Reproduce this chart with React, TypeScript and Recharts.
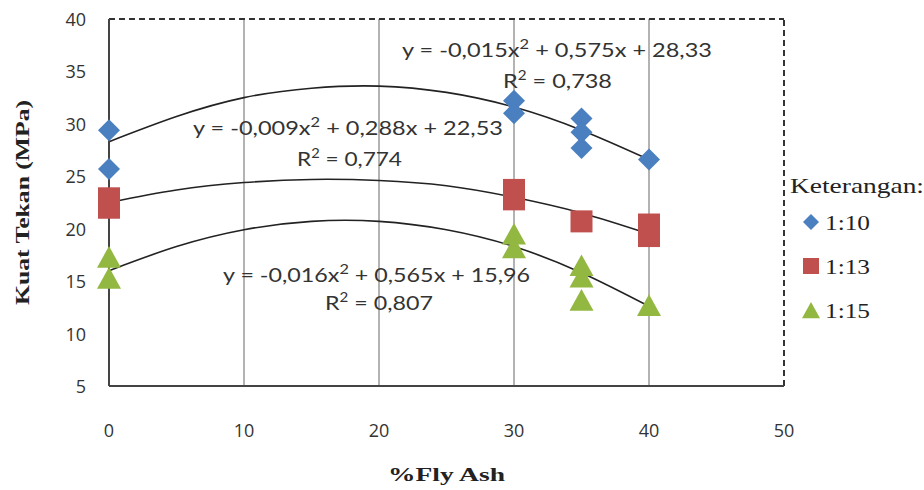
import {
  ComposedChart,
  Scatter,
  Line,
  XAxis,
  YAxis,
  ReferenceLine,
} from "recharts";

// axes
const xTicks = [0, 10, 20, 30, 40, 50];
const yTicks = [5, 10, 15, 20, 25, 30, 35, 40];
const innerGrid = [10, 20, 30, 40];

// measured points (% fly ash, compressive strength MPa)
const s110X = [0, 0, 30, 30, 35, 35, 35, 40];
const s110Y = [29.4, 25.7, 32.2, 31.0, 30.5, 29.2, 27.7, 26.6];
const s113X = [0, 0, 30, 30, 35, 40, 40];
const s113Y = [22.9, 22.0, 23.7, 22.8, 20.7, 20.4, 19.3];
const s115X = [0, 0, 30, 30, 35, 35, 35, 40];
const s115Y = [17.2, 15.2, 19.4, 18.1, 16.4, 15.3, 13.1, 12.6];

// trend curves
const trendX = [0, 5, 10, 15, 20, 25, 30, 35, 40];
const trend110 = [28.3, 30.7, 32.5, 33.4, 33.6, 33.0, 31.6, 29.4, 26.6];
const trend113 = [22.5, 23.7, 24.4, 24.7, 24.6, 24.1, 23.0, 21.5, 19.5];
const trend115 = [16.0, 18.3, 19.9, 20.7, 20.7, 19.9, 18.3, 15.8, 12.6];

const BLUE = "#4a7fc0";
const RED = "#c0504d";
const GREEN = "#93b842";

const pts = (xs: number[], ys: number[]) => xs.map((x, i) => ({ x, y: ys[i] }));

const Diamond = ({ cx, cy, s = 11 }: any) => (
  <path d={`M${cx},${cy - s}L${cx + s},${cy}L${cx},${cy + s}L${cx - s},${cy}Z`} fill={BLUE} />
);
const Square = ({ cx, cy, s = 11 }: any) => <rect x={cx - s} y={cy - s} width={2 * s} height={2 * s} fill={RED} />;
const Triangle = ({ cx, cy, s = 12 }: any) => (
  <path d={`M${cx},${cy - s}L${cx + s},${cy + s * 0.8}L${cx - s},${cy + s * 0.8}Z`} fill={GREEN} />
);

const tickFont = { fontFamily: "Open Sans", fontSize: 18, fill: "#333" };

const YTick = ({ y, payload }: any) => (
  <text x={86} y={y} textAnchor="end" dominantBaseline="central" {...tickFont}>
    {payload.value}
  </text>
);

const XTick = ({ x, payload }: any) => (
  <text x={x} y={437} textAnchor="middle" {...tickFont}>
    {payload.value}
  </text>
);

const YTitle = ({ viewBox }: any) => {
  const cy = viewBox.y + viewBox.height / 2;
  return (
    <text
      x={22}
      y={cy}
      transform={`rotate(-90, 22, ${cy})`}
      textAnchor="middle"
      dominantBaseline="central"
      fontFamily="Liberation Serif"
      fontWeight="bold"
      fontSize={19}
      textLength={205}
      lengthAdjust="spacingAndGlyphs"
      fill="#222"
    >
      Kuat Tekan (MPa)
    </text>
  );
};

const XTitle = ({ viewBox }: any) => (
  <text
    x={viewBox.x + viewBox.width / 2}
    y={481}
    textAnchor="middle"
    fontFamily="Liberation Serif"
    fontWeight="bold"
    fontSize={19}
    textLength={117}
    lengthAdjust="spacingAndGlyphs"
    fill="#222"
  >
    %Fly Ash
  </text>
);

const eqStyle = { fontFamily: "Lato", fontSize: 20, fill: "#333" };

const Eq = ({ x, y, a, b, c, len }: any) => (
  <text x={x} y={y} {...eqStyle} textLength={len} lengthAdjust="spacingAndGlyphs">
    y = {a}x<tspan dy={-8} fontSize={14}>2</tspan>
    <tspan dy={8}> + {b}x + {c}</tspan>
  </text>
);

const R2 = ({ x, y, v, len }: any) => (
  <text x={x} y={y} {...eqStyle} textLength={len} lengthAdjust="spacingAndGlyphs">
    R<tspan dy={-8} fontSize={13}>2</tspan>
    <tspan dy={8}> = {v}</tspan>
  </text>
);

const legendText = { fontFamily: "Liberation Serif", fontSize: 21, fill: "#222" };

export default function App() {
  return (
    <div style={{ position: "absolute", left: 0, top: 0, width: 924, height: 490, background: "#fff" }}>
      <ComposedChart width={924} height={490} margin={{ top: 19, right: 140, bottom: 0, left: 0 }}>
        <XAxis
          type="number"
          dataKey="x"
          domain={[0, 50]}
          ticks={xTicks}
          allowDuplicatedCategory={false}
          height={104}
          tickLine={false}
          tick={<XTick />}
          axisLine={{ stroke: "#444", strokeWidth: 2 }}
          label={<XTitle />}
        />
        <YAxis
          type="number"
          dataKey="y"
          domain={[5, 40]}
          ticks={yTicks}
          width={109}
          tickLine={false}
          tick={<YTick />}
          axisLine={{ stroke: "#444", strokeWidth: 2 }}
          label={<YTitle />}
        />
        {innerGrid.map((v) => (
          <ReferenceLine key={v} x={v} stroke="#9a9a9a" strokeWidth={1.5} />
        ))}
        <ReferenceLine y={40} stroke="#333" strokeWidth={2} strokeDasharray="6 4" />
        <ReferenceLine x={50} stroke="#333" strokeWidth={2} strokeDasharray="6 4" />
        <Scatter data={pts(s110X, s110Y)} dataKey="y" shape={<Diamond />} isAnimationActive={false} />
        <Scatter data={pts(s113X, s113Y)} dataKey="y" shape={<Square />} isAnimationActive={false} />
        <Scatter data={pts(s115X, s115Y)} dataKey="y" shape={<Triangle />} isAnimationActive={false} />
        {[trend110, trend113, trend115].map((t, i) => (
          <Line
            key={i}
            data={pts(trendX, t)}
            dataKey="y"
            type="natural"
            stroke="#222"
            strokeWidth={1.6}
            dot={false}
            activeDot={false}
            isAnimationActive={false}
          />
        ))}
      </ComposedChart>

      <svg width={924} height={490} style={{ position: "absolute", left: 0, top: 0, pointerEvents: "none" }}>
        <Eq x={402} y={57} a="-0,015" b="0,575" c="28,33" len={310} />
        <R2 x={503} y={88} v="0,738" len={109} />
        <Eq x={193} y={135} a="-0,009" b="0,288" c="22,53" len={310} />
        <R2 x={297} y={166} v="0,774" len={105} />
        <Eq x={223} y={282} a="-0,016" b="0,565" c="15,96" len={307} />
        <R2 x={325} y={310} v="0,807" len={108} />

        <text x={790} y={193} {...legendText} textLength={134} lengthAdjust="spacingAndGlyphs">
          Keterangan:
        </text>
        <Diamond cx={811} cy={222} s={8} />
        <text x={825} y={230} {...legendText} textLength={45} lengthAdjust="spacingAndGlyphs">
          1:10
        </text>
        <Square cx={811} cy={266} s={8} />
        <text x={825} y={274} {...legendText} textLength={45} lengthAdjust="spacingAndGlyphs">
          1:13
        </text>
        <Triangle cx={811} cy={311} s={9} />
        <text x={825} y={318} {...legendText} textLength={45} lengthAdjust="spacingAndGlyphs">
          1:15
        </text>
      </svg>
    </div>
  );
}
